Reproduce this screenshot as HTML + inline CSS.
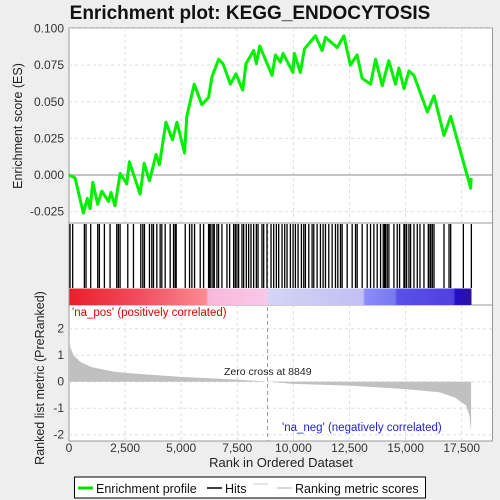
<!DOCTYPE html>
<html><head><meta charset="utf-8"><style>
body{margin:0;background:#eeeeee;}
svg{display:block;font-family:"Liberation Sans",sans-serif;}
</style></head><body>
<svg id="c" width="500" height="500">
<defs>
<linearGradient id="cb" x1="0" x2="1" y1="0" y2="0">
<stop offset="0" stop-color="#e8202a"/><stop offset="0.18" stop-color="#f05060"/>
<stop offset="0.34" stop-color="#fb8a90"/><stop offset="0.345" stop-color="#f8b8dc"/>
<stop offset="0.49" stop-color="#f8c8e8"/><stop offset="0.495" stop-color="#d4d4f4"/>
<stop offset="0.73" stop-color="#c0c0f4"/><stop offset="0.735" stop-color="#8c8cf8"/>
<stop offset="0.81" stop-color="#7878f0"/><stop offset="0.815" stop-color="#5a50e8"/>
<stop offset="0.955" stop-color="#5040e0"/><stop offset="0.96" stop-color="#2010c8"/>
<stop offset="1" stop-color="#3010a0"/></linearGradient>
</defs>
<text x="250" y="19" text-anchor="middle" font-size="19" font-weight="bold" fill="#111">Enrichment plot: KEGG_ENDOCYTOSIS</text>
<rect x="69" y="28" width="423.5" height="195" fill="#fff" stroke="#999"/>
<rect x="69" y="223" width="423.5" height="82" fill="#fff" stroke="#999"/>
<rect x="69" y="305" width="423.5" height="136" fill="#fff" stroke="#999"/>
<g id="grid"></g>
<rect x="69.5" y="288.5" width="402" height="16.5" fill="url(#cb)"/>
<g id="hits"></g>
<g id="metric"></g>
<g id="es"></g>
<g id="axes" font-size="12" fill="#333"></g>
<text x="72" y="316" font-size="11.5" fill="#e00000">'na_pos' (positively correlated)</text>
<text x="282" y="431" font-size="11.5" fill="#2020e0">'na_neg' (negatively correlated)</text>
<text x="224" y="375" font-size="10.5" fill="#222">Zero cross at 8849</text>
<text x="281" y="467" text-anchor="middle" font-size="13" fill="#222">Rank in Ordered Dataset</text>
<text transform="translate(22,126) rotate(-90)" text-anchor="middle" font-size="12.5" fill="#222">Enrichment score (ES)</text>
<text transform="translate(44,378) rotate(-90)" text-anchor="middle" font-size="12.5" fill="#222">Ranked list metric (PreRanked)</text>
<g>
<rect x="74.5" y="477" width="351" height="21" fill="#fff" stroke="#000"/>
<line x1="78" y1="488" x2="93" y2="488" stroke="#00e000" stroke-width="3"/>
<text x="96" y="493" font-size="12.5" fill="#111">Enrichment profile</text>
<line x1="207" y1="488" x2="222" y2="488" stroke="#000" stroke-width="1.5"/>
<text x="225" y="493" font-size="12.5" fill="#111">Hits</text>
<line x1="253" y1="484" x2="268" y2="484" stroke="#ccc"/>
<line x1="277" y1="488" x2="292" y2="488" stroke="#ccc" stroke-width="1.5"/>
<text x="295" y="493" font-size="12.5" fill="#111">Ranking metric scores</text>
</g>
</svg>
<script>
const esRanks=[0,270,640,820,940,1060,1280,1460,1760,1870,2050,2280,2575,2690,3170,3350,3585,3880,4030,4320,4610,4810,5150,5250,5580,5920,6220,6370,6670,6860,7190,7440,7740,7890,8230,8350,8500,9050,9200,9420,9540,9980,10040,10310,10490,10980,11280,11430,11950,12250,12540,12840,13060,13440,13660,13960,14250,14550,14700,14930,15150,15370,15970,16270,16710,17010,17900,17920];
const esValues=[0,-0.002,-0.026,-0.016,-0.023,-0.005,-0.020,-0.011,-0.018,-0.012,-0.021,0.001,-0.006,0.009,-0.013,0.008,-0.004,0.014,0.007,0.036,0.024,0.036,0.015,0.040,0.062,0.048,0.053,0.067,0.079,0.076,0.062,0.069,0.058,0.076,0.085,0.076,0.088,0.068,0.082,0.077,0.083,0.070,0.083,0.070,0.086,0.095,0.085,0.094,0.087,0.095,0.075,0.082,0.066,0.062,0.079,0.061,0.078,0.062,0.073,0.059,0.071,0.068,0.043,0.054,0.027,0.040,-0.009,-0.002];
const hitRanks=[45,164,685,759,967,1280,1354,1577,1830,2128,2202,2277,2619,2872,3199,3289,3363,3586,3690,3765,3914,4062,4137,4286,4509,4658,4732,4777,5179,5372,5476,5595,5848,5997,6220,6265,6324,6414,6473,6592,6667,6815,7039,7158,7336,7411,7485,7560,7708,7783,7902,8006,8110,8229,8348,8423,8601,8676,8824,9003,9122,9241,9345,9494,9613,9717,9866,9985,10089,10208,10357,10461,10536,10685,10833,10908,11057,11205,11324,11429,11577,11726,11875,11979,12098,12173,12396,12619,12768,12842,13065,13289,13437,13586,13735,13884,14003,14062,14107,14181,14256,14479,14628,14732,14926,14970,15045,15149,15223,15372,15521,15640,15818,16012,16042,16116,16190,16265,16711,16935,17009,17574,17931];
const metricRanks=[0,60,200,500,1000,2000,3000,5000,7500,8849,10000,12500,15000,16500,17200,17700,17850,17920];
const metricValues=[1.65,1.3,1.0,0.75,0.55,0.38,0.3,0.18,0.08,0,-0.08,-0.15,-0.28,-0.4,-0.6,-0.9,-1.3,-1.9];
const xTicks=[0,2500,5000,7500,10000,12500,15000,17500];
const esTicks=[-0.025,0,0.025,0.05,0.075,0.1];
const esTickLabels=["-0.025","0.000","0.025","0.050","0.075","0.100"];
const metricTicks=[-2,-1,0,1,2];
const zeroCross=8849;
const NS='http://www.w3.org/2000/svg';
const X=r=>69+r*0.02244;
const YE=v=>175-v*1465;
const YM=v=>381.7-v*26.5;
function mk(tag,attrs,parent){const e=document.createElementNS(NS,tag);for(const k in attrs)e.setAttribute(k,attrs[k]);parent.appendChild(e);return e;}
const grid=document.getElementById('grid'),axes=document.getElementById('axes');
xTicks.forEach(t=>{
 if(t>0){[[28,223],[305,441]].forEach(([a,b])=>{const l=mk('line',{x1:X(t),x2:X(t),y1:a,y2:b,stroke:'#ddd','stroke-dasharray':'3,3'},grid);
 
 });}
 const tx=mk('text',{x:X(t),y:452,'text-anchor':'middle'},axes);tx.textContent=t.toLocaleString('en-US');
 
 
});
esTicks.forEach((t,i)=>{
 const l=mk('line',{x1:69,x2:492,y1:YE(t),y2:YE(t),stroke:t===0?'#888':'#ddd','stroke-dasharray':t===0?'':'3,3'},grid);
 
 
 const tx=mk('text',{x:64,y:YE(t)+4,'text-anchor':'end'},axes);tx.textContent=esTickLabels[i];
 
 
});
metricTicks.forEach(t=>{
 const l=mk('line',{x1:69,x2:492,y1:YM(t),y2:YM(t),stroke:'#ddd','stroke-dasharray':'3,3'},grid);
 
 
 const tx=mk('text',{x:64,y:YM(t)+4,'text-anchor':'end'},axes);tx.textContent=t;
 
 
});
const zl=mk('line',{x1:X(zeroCross),x2:X(zeroCross),y1:223,y2:441,stroke:'#999','stroke-dasharray':'4,3'},grid);


const hg=document.getElementById('hits');
hitRanks.forEach(r=>{const l=mk('line',{x1:X(r),x2:X(r),y1:224,y2:288,stroke:'#000','stroke-width':1.3},hg);
 
 });
let d='M'+X(metricRanks[0])+','+YM(0);
metricRanks.forEach((r,i)=>d+=' L'+X(r)+','+YM(metricValues[i]));
d+=' L'+X(metricRanks[metricRanks.length-1])+','+YM(0)+'Z';
const ma=mk('path',{d:d,fill:'#c0c0c0'},document.getElementById('metric'));


const pts=esRanks.map((r,i)=>X(r)+','+YE(esValues[i])).join(' ');
const pl=mk('polyline',{points:pts,fill:'none',stroke:'#00f000','stroke-width':3,'stroke-linejoin':'round'},document.getElementById('es'));


</script>
</body></html>
